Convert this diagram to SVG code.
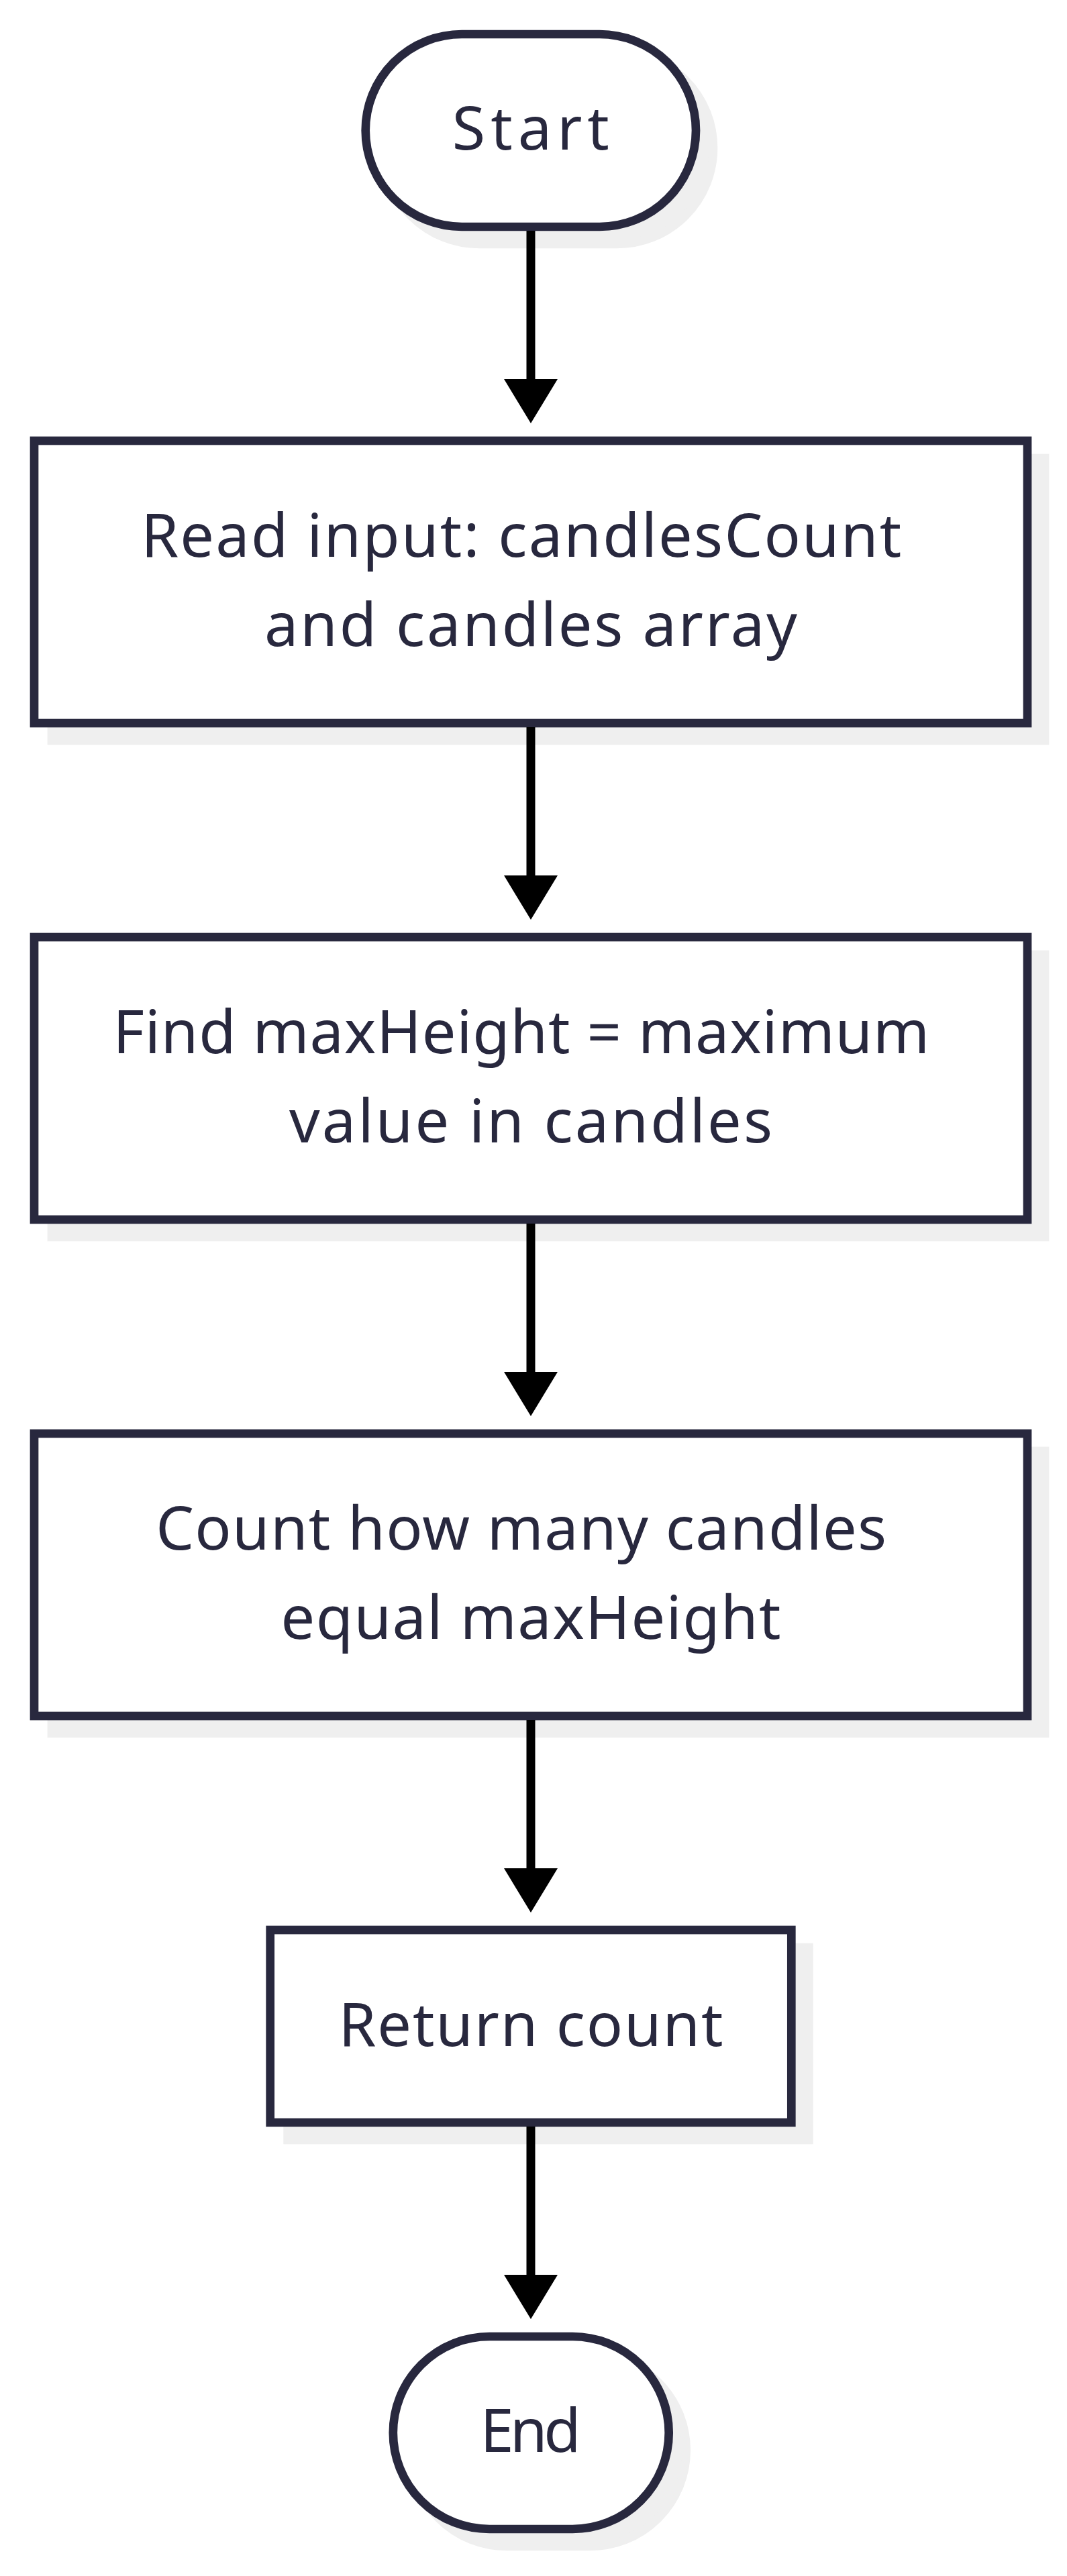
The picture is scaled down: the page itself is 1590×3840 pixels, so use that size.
<svg xmlns="http://www.w3.org/2000/svg" width="1590" height="3840" viewBox="0 0 1590 3840">
  <defs>
    <marker id="arrow" markerUnits="userSpaceOnUse" viewBox="0 0 66 80" markerWidth="66" markerHeight="80" refX="0" refY="40" orient="auto">
      <path d="M0,0 L66,40 L0,80 Z" fill="#000000"/>
    </marker>
  </defs>
  <style>
    .shadow { fill: #efefef; stroke: #efefef; stroke-width: 12.7; }
    .node { fill: #ffffff; stroke: #28283e; stroke-width: 12.7; }
    .label { font-family: "Noto Sans", "Open Sans", sans-serif; font-size: 90px; fill: #28283e; text-anchor: middle; }
    .edge { stroke: #000000; stroke-width: 13; fill: none; marker-end: url(#arrow); }
  </style>
  <rect width="1590" height="3840" fill="#ffffff"/>

  <g id="start">
    <rect class="shadow" x="570.7" y="77" width="492.3" height="287" rx="143.5" ry="143.5"/>
    <rect class="node" x="544.7" y="51" width="492.3" height="287" rx="143.5" ry="143.5"/>
    <text class="label" x="790.8" y="223.3" textLength="234">Start</text>
  </g>

  <g id="read-input">
    <rect class="shadow" x="77" y="683" width="1480" height="421"/>
    <rect class="node" x="51" y="657" width="1480" height="421"/>
    <text class="label" x="776.7" y="830" textLength="1133">Read input: candlesCount</text>
    <text class="label" x="791" y="963.3" textLength="794">and candles array</text>
  </g>

  <g id="find-max">
    <rect class="shadow" x="77" y="1423" width="1480" height="421"/>
    <rect class="node" x="51" y="1397" width="1480" height="421"/>
    <text class="label" x="776.7" y="1570" textLength="1217">Find maxHeight = maximum</text>
    <text class="label" x="791" y="1703.3" textLength="720">value in candles</text>
  </g>

  <g id="count-max">
    <rect class="shadow" x="77" y="2163" width="1480" height="421"/>
    <rect class="node" x="51" y="2137" width="1480" height="421"/>
    <text class="label" x="776.7" y="2310" textLength="1089">Count how many candles</text>
    <text class="label" x="791" y="2443.3" textLength="745">equal maxHeight</text>
  </g>

  <g id="return-count">
    <rect class="shadow" x="428.7" y="2903" width="776.6" height="287"/>
    <rect class="node" x="402.7" y="2877" width="776.6" height="287"/>
    <text class="label" x="791" y="3050" textLength="573">Return count</text>
  </g>

  <g id="end">
    <rect class="shadow" x="611.8" y="3509" width="410.9" height="287" rx="143.5" ry="143.5"/>
    <rect class="node" x="585.8" y="3483" width="410.9" height="287" rx="143.5" ry="143.5"/>
    <text class="label" x="790.5" y="3655" textLength="150">End</text>
  </g>

  <g id="connectors">
    <line class="edge" x1="791" y1="344" x2="791" y2="565"/>
    <line class="edge" x1="791" y1="1084" x2="791" y2="1305"/>
    <line class="edge" x1="791" y1="1824" x2="791" y2="2045"/>
    <line class="edge" x1="791" y1="2564" x2="791" y2="2785"/>
    <line class="edge" x1="791" y1="3170" x2="791" y2="3391"/>
  </g>
</svg>
